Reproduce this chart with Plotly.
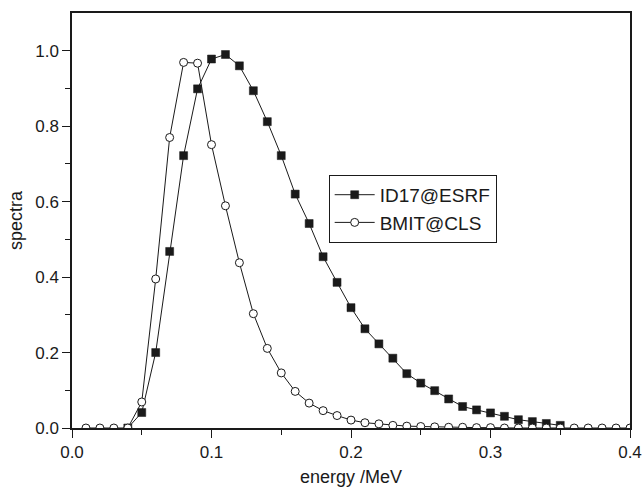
import plotly.graph_objects as go

# ID17@ESRF spectrum (filled squares)
id17_energy = [0.04, 0.05, 0.06, 0.07, 0.08, 0.09, 0.10, 0.11, 0.12, 0.13, 0.14, 0.15,
               0.16, 0.17, 0.18, 0.19, 0.20, 0.21, 0.22, 0.23, 0.24, 0.25, 0.26, 0.27,
               0.28, 0.29, 0.30, 0.31, 0.32, 0.33, 0.34, 0.35]
id17_spectra = [0.0, 0.041, 0.200, 0.468, 0.722, 0.899, 0.978, 0.990, 0.960, 0.894, 0.812, 0.722,
                0.620, 0.542, 0.454, 0.386, 0.319, 0.263, 0.223, 0.185, 0.144, 0.119, 0.099, 0.077,
                0.057, 0.048, 0.040, 0.031, 0.022, 0.017, 0.012, 0.007]

# BMIT@CLS spectrum (open circles)
bmit_energy = [0.01, 0.02, 0.03, 0.04, 0.05, 0.06, 0.07, 0.08, 0.09, 0.10, 0.11, 0.12,
               0.13, 0.14, 0.15, 0.16, 0.17, 0.18, 0.19, 0.20, 0.21, 0.22, 0.23, 0.24,
               0.25, 0.26, 0.27, 0.28, 0.29, 0.30, 0.31, 0.32, 0.33, 0.34, 0.35, 0.36,
               0.37, 0.38, 0.39, 0.40]
bmit_spectra = [0.0, 0.0, 0.0, 0.0, 0.069, 0.395, 0.770, 0.969, 0.967, 0.751, 0.589, 0.438,
                0.303, 0.211, 0.146, 0.097, 0.066, 0.046, 0.033, 0.021, 0.014, 0.011, 0.007, 0.005,
                0.004, 0.003, 0.002, 0.002, 0.001, 0.001, 0.0, 0.0, 0.0, 0.0, 0.0, 0.0,
                0.0, 0.0, 0.0, 0.0]

x_ticks = [0.0, 0.1, 0.2, 0.3, 0.4]
y_ticks = [0.0, 0.2, 0.4, 0.6, 0.8, 1.0]
x_minor_ticks = [0.05, 0.15, 0.25, 0.35]
y_minor_ticks = [0.1, 0.3, 0.5, 0.7, 0.9]

FONT = "Liberation Sans, Arial, Helvetica, sans-serif"
INK = "#1a1a1a"

fig = go.Figure()
fig.add_trace(go.Scatter(
    x=id17_energy, y=id17_spectra, name="ID17@ESRF", mode="lines+markers",
    line=dict(color=INK, width=1),
    marker=dict(symbol="square", size=8, color=INK, line=dict(color=INK, width=0.5)),
))
fig.add_trace(go.Scatter(
    x=bmit_energy, y=bmit_spectra, name="BMIT@CLS", mode="lines+markers",
    line=dict(color=INK, width=1),
    marker=dict(symbol="circle", size=8, color="white", line=dict(color=INK, width=1)),
))

axis_common = dict(
    showline=True, linecolor=INK, linewidth=1.5, mirror=True,
    ticks="outside", ticklen=8, tickwidth=1.3, tickcolor=INK,
    showgrid=False, zeroline=False, tickformat=".1f",
    tickfont=dict(family=FONT, size=17, color=INK),
)

fig.update_xaxes(
    range=[0, 0.4], tickvals=x_ticks,
    minor=dict(ticks="outside", ticklen=5, tickwidth=1.3, tickcolor=INK,
               tickvals=x_minor_ticks, showgrid=False),
    title=dict(text="energy /MeV", font=dict(family=FONT, size=18, color=INK), standoff=10),
    **axis_common,
)
fig.update_yaxes(
    range=[0, 1.1], tickvals=y_ticks,
    minor=dict(ticks="outside", ticklen=5, tickwidth=1.3, tickcolor=INK,
               tickvals=y_minor_ticks, showgrid=False),
    title=dict(text="spectra", font=dict(family=FONT, size=18, color=INK), standoff=8),
    **axis_common,
)

fig.update_layout(
    width=642, height=487,
    margin=dict(l=72, r=12, t=13, b=59, autoexpand=False),
    paper_bgcolor="white", plot_bgcolor="white",
    showlegend=True,
    legend=dict(
        x=0.46, y=0.61, xanchor="left", yanchor="top",
        bordercolor=INK, borderwidth=1, bgcolor="white",
        font=dict(family=FONT, size=19, color=INK),
        tracegroupgap=0, itemwidth=40,
    ),
    font=dict(family=FONT, color=INK),
)

fig.write_html("out.html", config={"displayModeBar": False},
               post_script="document.body.style.margin='0';")
